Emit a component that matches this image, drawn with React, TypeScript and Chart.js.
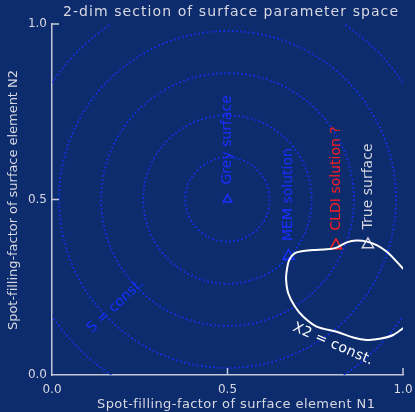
import { useEffect, useRef } from "react";
import { Chart, registerables } from "chart.js";
Chart.register(...registerables);

const BG = "#0d2c6d";
const AXIS_COLOR = "#c4c8d8";
const TEXT_COLOR = "#d8d8e2";
const S_COLOR = "#1430ff";

const TITLE = "2-dim section of surface parameter space";
const X_TITLE = "Spot-filling-factor of surface element N1";
const Y_TITLE = "Spot-filling-factor of surface element N2";
const TICKS = [0, 0.5, 1.0];

// S = const. contours (circles around the grey-surface solution)
const S_CENTER_X = 0.5;
const S_CENTER_Y = 0.5;
const S_RADII = [0.12, 0.24, 0.36, 0.48, 0.6];

// X2 = const. contour
const CHI_X = [1.001, 0.982, 0.954, 0.925, 0.897, 0.868, 0.84, 0.811, 0.783, 0.744, 0.716, 0.692, 0.676, 0.669, 0.667, 0.673, 0.692, 0.716, 0.754, 0.811, 0.858, 0.897, 0.934, 0.972, 1.001];
const CHI_Y = [0.302, 0.323, 0.351, 0.37, 0.38, 0.383, 0.378, 0.363, 0.358, 0.356, 0.353, 0.347, 0.328, 0.299, 0.271, 0.233, 0.195, 0.166, 0.138, 0.123, 0.107, 0.1, 0.103, 0.114, 0.134];

// solutions
const MARK_NAMES = ["Grey surface", "MEM solution", "CLDI solution ?", "True surface"];
const MARK_X = [0.5, 0.674, 0.809, 0.9];
const MARK_Y = [0.5, 0.339, 0.369, 0.372];
const MARK_COLORS = ["#1a2eff", "#1a2eff", "#ff1e1e", "#d4d4dc"];
const MARK_SIZES = [5, 6.5, 6.5, 6.5];

const CHI_LABEL = "X2 = const.";
const CHI_LABEL_X = 0.8;
const CHI_LABEL_Y = 0.088;
const S_LABEL = "S = const.";
const S_LABEL_X = 0.182;
const S_LABEL_Y = 0.197;

const FONT = "'DejaVu Sans', sans-serif";

function drawText(
  ctx: CanvasRenderingContext2D,
  text: string,
  x: number,
  y: number,
  angleDeg: number,
  size: number,
  color: string,
  anchor: "center" | "start",
  fitWidth?: number
) {
  ctx.save();
  ctx.font = `${size}px ${FONT}`;
  ctx.fillStyle = color;
  (ctx as any).letterSpacing = "0px";
  const w = ctx.measureText(text).width;
  let ls = 0;
  if (fitWidth) ls = (fitWidth - w) / Math.max(1, text.length - 1);
  (ctx as any).letterSpacing = `${ls}px`;
  const total = w + ls * (text.length - 1);
  ctx.translate(x, y);
  ctx.rotate((angleDeg * Math.PI) / 180);
  ctx.textAlign = "left";
  ctx.textBaseline = "middle";
  ctx.fillText(text, anchor === "center" ? -total / 2 : 0, 0);
  ctx.restore();
}

const decorPlugin = {
  id: "decor",
  beforeDatasetsDraw(chart: any) {
    const { ctx, chartArea, scales } = chart;
    const xs = scales.x;
    const ys = scales.y;
    ctx.save();
    ctx.beginPath();
    ctx.rect(chartArea.left, chartArea.top, chartArea.right - chartArea.left, chartArea.bottom - chartArea.top);
    ctx.clip();
    ctx.strokeStyle = S_COLOR;
    ctx.lineWidth = 1.6;
    ctx.lineCap = "butt";
    ctx.setLineDash([1.6, 2.6]);
    const cx = xs.getPixelForValue(S_CENTER_X);
    const cy = ys.getPixelForValue(S_CENTER_Y);
    for (const r of S_RADII) {
      const rp = xs.getPixelForValue(S_CENTER_X + r) - cx;
      ctx.beginPath();
      ctx.arc(cx, cy, rp, 0, Math.PI * 2);
      ctx.stroke();
    }
    ctx.restore();
  },
  afterDraw(chart: any) {
    const { ctx, scales } = chart;
    const xs = scales.x;
    const ys = scales.y;
    // inward tick marks
    ctx.save();
    ctx.strokeStyle = AXIS_COLOR;
    ctx.lineWidth = 1.5;
    for (const t of TICKS) {
      if (t === 0) continue;
      const px = xs.getPixelForValue(t);
      ctx.beginPath();
      ctx.moveTo(px, ys.bottom);
      ctx.lineTo(px, ys.bottom - 7);
      ctx.stroke();
      const py = ys.getPixelForValue(t);
      ctx.beginPath();
      ctx.moveTo(xs.left, py);
      ctx.lineTo(xs.left + 7, py);
      ctx.stroke();
    }
    ctx.restore();

    // marker labels
    MARK_NAMES.forEach((name, i) => {
      const px = xs.getPixelForValue(MARK_X[i]);
      const py = ys.getPixelForValue(MARK_Y[i]);
      drawText(ctx, name, px, py - 15, -90, 14, MARK_COLORS[i], "start");
    });

    drawText(ctx, S_LABEL, xs.getPixelForValue(S_LABEL_X), ys.getPixelForValue(S_LABEL_Y), -43, 14, S_COLOR, "center", 72);
    drawText(ctx, CHI_LABEL, xs.getPixelForValue(CHI_LABEL_X), ys.getPixelForValue(CHI_LABEL_Y), 23.6, 14, "#ffffff", "center", 86);

    // titles
    drawText(ctx, TITLE, 230.5, 12, 0, 14, TEXT_COLOR, "center", 335);
    drawText(ctx, X_TITLE, 236, 405, 0, 13, TEXT_COLOR, "center", 278);
    drawText(ctx, Y_TITLE, 14, 200, -90, 13, TEXT_COLOR, "center", 260);
  },
};

export default function App() {
  const ref = useRef<HTMLCanvasElement>(null);
  useEffect(() => {
    if (!ref.current) return;
    const tickFont = { family: FONT, size: 12 };
    const chart = new Chart(ref.current, {
      type: "scatter",
      data: {
        datasets: [
          {
            data: CHI_X.map((x, i) => ({ x, y: CHI_Y[i] })),
            showLine: true,
            borderColor: "#ffffff",
            borderWidth: 2,
            pointRadius: 0,
            tension: 0.3,
          },
          {
            data: MARK_X.map((x, i) => ({ x, y: MARK_Y[i] })),
            showLine: false,
            pointStyle: "triangle",
            pointRadius: MARK_SIZES,
            pointBorderColor: MARK_COLORS,
            pointBackgroundColor: "rgba(0,0,0,0)",
            pointBorderWidth: 1.5,
          },
        ],
      } as any,
      options: {
        animation: false,
        responsive: false,
        events: [],
        layout: { padding: { left: 0, top: 24, right: 12, bottom: 0 } },
        plugins: { legend: { display: false }, tooltip: { enabled: false }, title: { display: false } },
        scales: {
          x: {
            type: "linear",
            min: 0,
            max: 1,
            afterFit: (s: any) => {
              s.height = 37;
              s.paddingLeft = 0;
              s.paddingRight = 0;
            },
            ticks: {
              stepSize: 0.5,
              autoSkip: false,
              maxRotation: 0,
              padding: 8,
              color: TEXT_COLOR,
              font: tickFont,
              callback: (v: any) => Number(v).toFixed(1),
            },
            grid: { display: false, drawTicks: false },
            border: { display: true, color: AXIS_COLOR, width: 1.5 },
          },
          y: {
            type: "linear",
            min: 0,
            max: 1,
            afterFit: (s: any) => {
              s.width = 52;
              s.paddingTop = 0;
              s.paddingBottom = 0;
            },
            ticks: {
              stepSize: 0.5,
              autoSkip: false,
              padding: 5,
              color: TEXT_COLOR,
              font: tickFont,
              callback: (v: any) => Number(v).toFixed(1),
            },
            grid: { display: false, drawTicks: false },
            border: { display: true, color: AXIS_COLOR, width: 1.5 },
          },
        },
      } as any,
      plugins: [decorPlugin],
    });
    return () => chart.destroy();
  }, []);
  return (
    <div style={{ position: "fixed", left: 0, top: 0, width: 415, height: 412, background: BG }}>
      <canvas ref={ref} width={415} height={412} style={{ display: "block" }} />
    </div>
  );
}
